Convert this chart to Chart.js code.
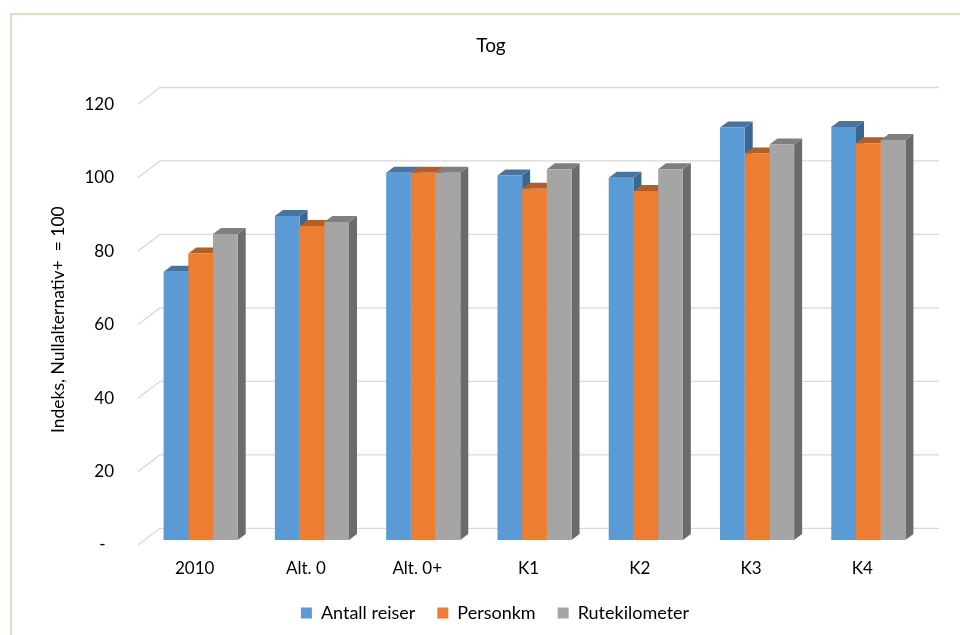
<!DOCTYPE html>
<html>
<head>
<meta charset="utf-8">
<title>Tog</title>
<script src="https://cdn.jsdelivr.net/npm/chart.js@4/dist/chart.umd.min.js"></script>
<style>
  html, body { margin: 0; padding: 0; background: #fff; }
  #wrap { position: relative; width: 960px; height: 635px; overflow: hidden; }
  #frame {
    position: absolute; left: 10px; top: 13px; width: 2000px; height: 2000px;
    border-left: 2px solid #d6e4bb; border-top: 2px solid #d6e4bb;
  }
  canvas { position: absolute; left: 0; top: 0; }
</style>
</head>
<body>
<div id="wrap">
  <div id="frame"></div>
  <canvas id="chart" width="960" height="635"></canvas>
</div>
<script>
// Index values, Nullalternativ+ = 100
const categories    = ['2010', 'Alt. 0', 'Alt. 0+', 'K1', 'K2', 'K3', 'K4'];
const antallReiser  = [73.0, 88.2, 100, 99.2, 98.6, 112.3, 112.4];
const personkm      = [78.0, 85.5, 100, 95.6, 95.0, 105.2, 108.0];
const rutekilometer = [83.3, 86.6, 100, 100.9, 100.9, 107.7, 108.9];
const seriesNames   = ['Antall reiser', 'Personkm', 'Rutekilometer'];
const yMin = 0, yMax = 120, yStep = 20;

const FONT = 'Lato, "Open Sans", sans-serif';
const TEXT = '#000000';

// front, top and side shades for each series
const palette = [
  { front: '#5b9bd5', top: '#4675a4', side: '#3b668f' },
  { front: '#ed7d31', top: '#b65d21', side: '#a8521b' },
  { front: '#a5a5a5', top: '#7f7f7f', side: '#6b6b6b' }
];

// perspective offsets (pixels) relative to the plane of the bar fronts
const FRONT = { dx: -7, dy: 5 };
const BACK  = { dx: 15, dy: -11.7 };
const DEPTH = { dx: 8,  dy: -6 };

// title and legend are centred on the whole frame rather than the plot
const BLOCK_SHIFT = { title: 29, legend: 33 };

function poly(ctx, pts, color) {
  ctx.beginPath();
  ctx.moveTo(pts[0][0], pts[0][1]);
  for (let i = 1; i < pts.length; i++) ctx.lineTo(pts[i][0], pts[i][1]);
  ctx.closePath();
  ctx.fillStyle = color;
  ctx.fill();
}

// draws the walls' gridlines and the top/side faces of every bar
const depth3d = {
  id: 'depth3d',
  afterLayout(chart) {
    if (chart.titleBlock) {
      chart.titleBlock.left += BLOCK_SHIFT.title;
      chart.titleBlock.right += BLOCK_SHIFT.title;
    }
    if (chart.legend) {
      chart.legend.left += BLOCK_SHIFT.legend;
      chart.legend.right += BLOCK_SHIFT.legend;
    }
  },
  beforeDatasetsDraw(chart) {
    const { ctx, chartArea: a, scales: { y } } = chart;
    ctx.save();
    ctx.strokeStyle = '#d9d9d9';
    ctx.lineWidth = 1.3;
    y.ticks.forEach(t => {
      const py = y.getPixelForValue(t.value);
      ctx.beginPath();
      ctx.moveTo(a.left + FRONT.dx, py + FRONT.dy);
      ctx.lineTo(a.left + BACK.dx, py + BACK.dy);
      ctx.lineTo(a.right + BACK.dx, py + BACK.dy);
      ctx.stroke();
    });

    const bars = [];
    chart.data.datasets.forEach((ds, i) => {
      chart.getDatasetMeta(i).data.forEach(el => {
        const p = el.getProps(['x', 'y', 'base', 'width'], true);
        bars.push({ l: p.x - p.width / 2, r: p.x + p.width / 2, top: p.y, base: p.base, c: palette[i] });
      });
    });
    // side faces first, top faces over them; fronts are drawn by Chart.js afterwards
    bars.forEach(b => {
      poly(ctx, [[b.r, b.top], [b.r + DEPTH.dx, b.top + DEPTH.dy],
                 [b.r + DEPTH.dx, b.base + DEPTH.dy], [b.r, b.base]], b.c.side);
    });
    bars.forEach(b => {
      poly(ctx, [[b.l, b.top], [b.l + DEPTH.dx, b.top + DEPTH.dy],
                 [b.r + DEPTH.dx, b.top + DEPTH.dy], [b.r, b.top]], b.c.top);
    });
    ctx.restore();
  }
};

const seriesValues = [antallReiser, personkm, rutekilometer];

new Chart(document.getElementById('chart'), {
  type: 'bar',
  data: {
    labels: categories,
    datasets: seriesValues.map((vals, i) => ({
      label: seriesNames[i],
      data: vals,
      backgroundColor: palette[i].front,
      borderWidth: 0,
      categoryPercentage: 0.666,
      barPercentage: 1.0
    }))
  },
  options: {
    responsive: false,
    animation: false,
    devicePixelRatio: 1,
    layout: { padding: { left: 0, right: 36, top: 0, bottom: 3 } },
    plugins: {
      title: {
        display: true,
        text: 'Tog',
        color: TEXT,
        font: { family: FONT, size: 19, weight: 'normal' },
        padding: { top: 34, bottom: 42.4 }
      },
      legend: {
        position: 'bottom',
        labels: {
          color: TEXT,
          font: { family: FONT, size: 18 },
          boxWidth: 11,
          boxHeight: 11,
          padding: 22
        }
      },
      tooltip: { enabled: false }
    },
    scales: {
      x: {
        grid: { display: false, drawTicks: false },
        border: { display: false },
        ticks: {
          color: TEXT,
          font: { family: FONT, size: 17 },
          padding: 18,
          labelOffset: -6,
          maxRotation: 0
        },
        afterFit(scale) { scale.height = 42; }
      },
      y: {
        min: yMin,
        max: yMax,
        grid: { display: false, drawTicks: false },
        border: { display: false },
        ticks: {
          stepSize: yStep,
          color: TEXT,
          font: { family: FONT, size: 17 },
          padding: 31,
          labelOffset: 5,
          callback: v => (v === 0 ? '-\u2002' : v)
        },
        title: {
          display: true,
          text: 'Indeks, Nullalternativ+  = 100',
          color: TEXT,
          font: { family: FONT, size: 17.5 },
          padding: { top: 48, bottom: 0 }
        },
        afterFit(scale) { scale.width = 145; }
      }
    }
  },
  plugins: [depth3d]
});
</script>
</body>
</html>
